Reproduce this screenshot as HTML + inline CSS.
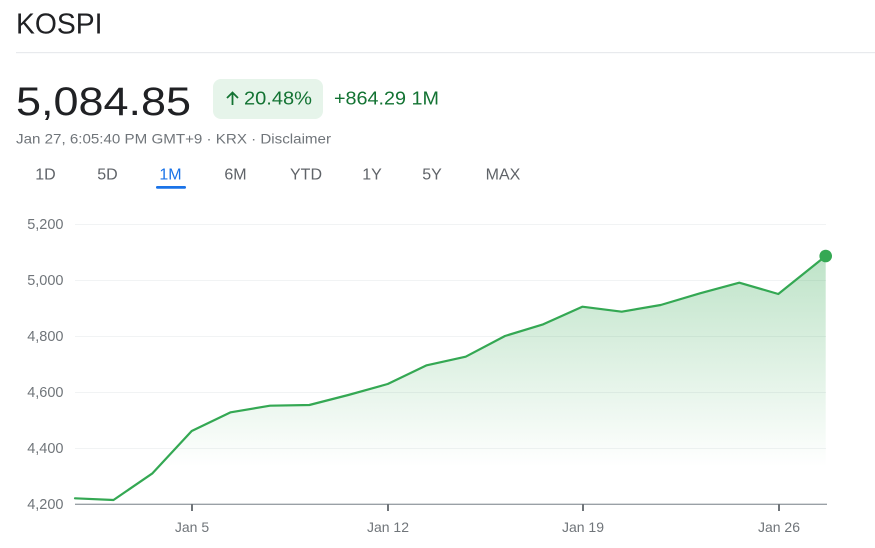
<!DOCTYPE html>
<html>
<head>
<meta charset="utf-8">
<style>
  html,body{margin:0;padding:0;background:#fff;}
  body{width:875px;height:548px;overflow:hidden;}
  svg{display:block;font-family:"Liberation Sans",Arial,sans-serif;}
</style>
</head>
<body>
<svg width="875" height="548" viewBox="0 0 875 548" xmlns="http://www.w3.org/2000/svg">
  <defs>
    <linearGradient id="fillg" x1="0" y1="0" x2="0" y2="1">
      <stop offset="0" stop-color="#34a853" stop-opacity="0.32"/>
      <stop offset="0.85" stop-color="#34a853" stop-opacity="0.0"/>
    </linearGradient>
  </defs>

  <!-- Header -->
  <text x="16" y="33.3" font-size="28.3" fill="#202124">KOSPI</text>
  <rect x="16" y="52" width="859" height="1.2" fill="#e8eaed"/>

  <text x="16" y="115" font-size="40" fill="#202124" textLength="175" lengthAdjust="spacingAndGlyphs">5,084.85</text>

  <rect x="213" y="79" width="110" height="40" rx="8" ry="8" fill="#e6f4ea"/>
  <path d="M232.5 105 V92.5 M227 98 L232.5 92.5 L238 98" stroke="#137333" stroke-width="1.8" fill="none"/>
  <text x="244" y="104.3" font-size="18.5" font-weight="500" fill="#137333" textLength="68" lengthAdjust="spacingAndGlyphs">20.48%</text>
  <text x="334" y="104.3" font-size="18.5" font-weight="500" fill="#137333" textLength="105" lengthAdjust="spacingAndGlyphs">+864.29 1M</text>

  <text x="16" y="143.3" font-size="14" fill="#70757a" textLength="315" lengthAdjust="spacingAndGlyphs">Jan 27, 6:05:40 PM GMT+9 · KRX · Disclaimer</text>

  <!-- Tabs -->
  <g font-size="16" font-weight="500" fill="#5f6368" text-anchor="middle">
    <text x="45.5" y="179.3">1D</text>
    <text x="107.5" y="179.3">5D</text>
    <text x="170.5" y="179.3" fill="#1a73e8">1M</text>
    <text x="235.5" y="179.3">6M</text>
    <text x="306" y="179.3">YTD</text>
    <text x="372" y="179.3">1Y</text>
    <text x="432" y="179.3">5Y</text>
    <text x="503" y="179.3">MAX</text>
  </g>
  <rect x="156" y="186" width="30" height="2.7" rx="1.3" fill="#1a73e8"/>

  <!-- Grid -->
  <g stroke="#f1f3f4" stroke-width="1">
    <line x1="75" y1="224.5" x2="826" y2="224.5"/>
    <line x1="75" y1="280.5" x2="826" y2="280.5"/>
    <line x1="75" y1="336.5" x2="826" y2="336.5"/>
    <line x1="75" y1="392.5" x2="826" y2="392.5"/>
    <line x1="75" y1="448.5" x2="826" y2="448.5"/>
  </g>

  <!-- Y labels -->
  <g font-size="14.5" fill="#70757a" text-anchor="end">
    <text x="63.5" y="229">5,200</text>
    <text x="63.5" y="285">5,000</text>
    <text x="63.5" y="341">4,800</text>
    <text x="63.5" y="397">4,600</text>
    <text x="63.5" y="453">4,400</text>
    <text x="63.5" y="509">4,200</text>
  </g>

  <!-- Area -->
  <path fill="url(#fillg)" d="M75 498.3 L113.5 500 L152.5 473.3 L191.7 431 L230.7 412.3 L270 405.7 L309.3 405 L348.3 395 L387.7 384 L426.7 365.3 L465.7 356.7 L505 336 L543.3 324.3 L582.3 306.7 L621.7 311.7 L660.7 305 L700 293.3 L739.3 282.7 L778.3 294 L825.7 256 L825.7 504 L75 504 Z"/>

  <!-- Axis -->
  <line x1="75" y1="504.3" x2="827" y2="504.3" stroke="#9aa0a6" stroke-width="1.3"/>
  <g fill="#70757a">
    <rect x="191" y="504" width="2" height="7"/>
    <rect x="387" y="504" width="2" height="7"/>
    <rect x="582" y="504" width="2" height="7"/>
    <rect x="778" y="504" width="2" height="7"/>
  </g>
  <g font-size="14" fill="#70757a" text-anchor="middle">
    <text x="192" y="532">Jan 5</text>
    <text x="388" y="532">Jan 12</text>
    <text x="583" y="532">Jan 19</text>
    <text x="779" y="532">Jan 26</text>
  </g>

  <!-- Line -->
  <polyline fill="none" stroke="#34a853" stroke-width="2.2" stroke-linejoin="round" stroke-linecap="round"
    points="75,498.3 113.5,500 152.5,473.3 191.7,431 230.7,412.3 270,405.7 309.3,405 348.3,395 387.7,384 426.7,365.3 465.7,356.7 505,336 543.3,324.3 582.3,306.7 621.7,311.7 660.7,305 700,293.3 739.3,282.7 778.3,294 825.7,256"/>
  <circle cx="825.7" cy="256" r="6.3" fill="#34a853"/>
</svg>
</body>
</html>
